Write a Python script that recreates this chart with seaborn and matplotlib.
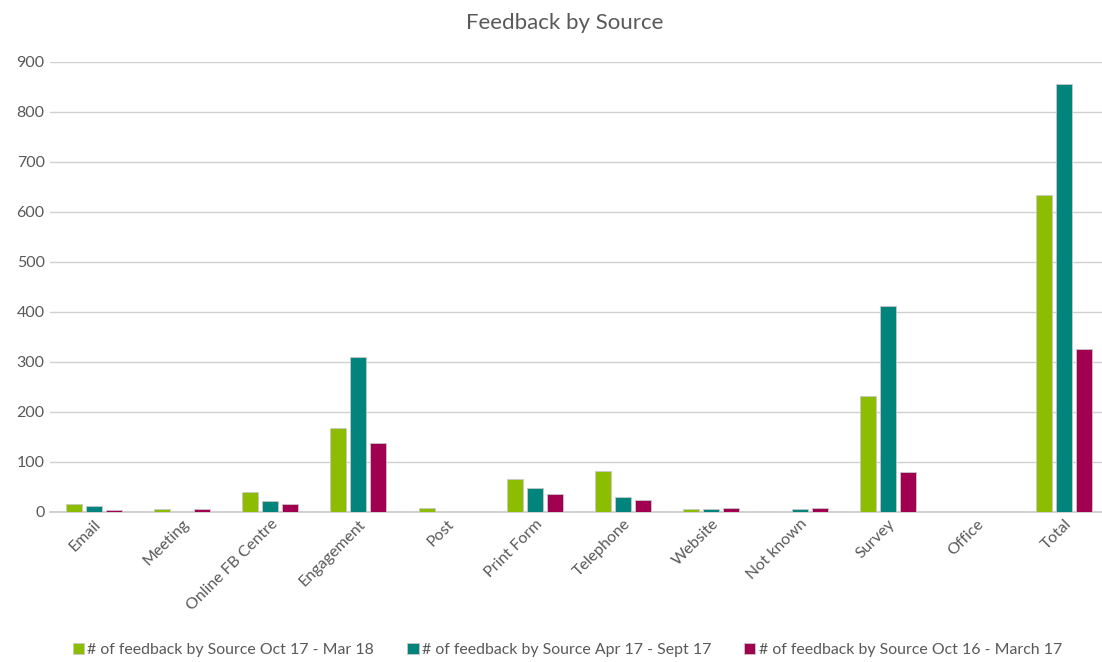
import pandas as pd
import seaborn as sns
import matplotlib.pyplot as plt

# Data
categories = ["Email", "Meeting", "Online FB Centre", "Engagement", "Post", "Print Form",
              "Telephone", "Website", "Not known", "Survey", "Office", "Total"]
oct17_mar18 = [16, 5, 40, 168, 8, 66, 82, 6, 0, 232, 0, 633]
apr17_sep17 = [12, 0, 22, 310, 0, 48, 29, 5, 5, 412, 0, 855]
oct16_mar17 = [3, 6, 16, 138, 0, 36, 23, 8, 8, 80, 0, 326]
series_names = ["# of feedback by Source Oct 17 - Mar 18",
                "# of feedback by Source Apr 17 - Sept 17",
                "# of feedback by Source Oct 16 - March 17"]
colors = ["#8CBD00", "#00847C", "#A10050"]

df = pd.DataFrame({
    "Source": categories * 3,
    "Count": oct17_mar18 + apr17_sep17 + oct16_mar17,
    "Series": [series_names[0]] * 12 + [series_names[1]] * 12 + [series_names[2]] * 12,
})

sns.set_style("white")
plt.rcParams['font.family'] = ['Lato', 'DejaVu Sans']

fig = plt.figure(figsize=(11.02, 6.62), dpi=100)
# plot area runs slightly past the right edge, as in the original
ax = fig.add_axes([0.045, 0.2266, 0.961, 0.68])

sns.barplot(data=df, x="Source", y="Count", hue="Series", palette=colors,
            saturation=1, width=0.68, gap=0.2, edgecolor="#C8C8C8", linewidth=0.6,
            ax=ax, zorder=3)

ax.set_ylim(0, 900)
ax.set_yticks(range(0, 901, 100))
ax.grid(axis="y", color="#D0D0D0", linewidth=1.0, zorder=0)
ax.set_axisbelow(True)
for s in ["top", "right", "left"]:
    ax.spines[s].set_visible(False)
ax.spines["bottom"].set_color("#C8C8C8")
ax.spines["bottom"].set_linewidth(1.2)

ax.set_xlabel("")
ax.set_ylabel("")
ax.tick_params(axis="both", length=0, colors="#595959", labelsize=11.5)
plt.setp(ax.get_xticklabels(), rotation=45, ha="right", rotation_mode="anchor")

fig.text(0.512, 0.966, "Feedback by Source", fontsize=16, color="#595959",
         ha="center", va="center")

handles, labels = ax.get_legend_handles_labels()
ax.get_legend().remove()
fig.legend(handles, labels, loc="center", bbox_to_anchor=(0.515, 0.018), ncol=3,
           frameon=False, fontsize=11.4, handlelength=0.7, handleheight=0.7,
           handletextpad=0.2, columnspacing=2.1, labelcolor="#595959")

plt.savefig("out.png", dpi=100)
